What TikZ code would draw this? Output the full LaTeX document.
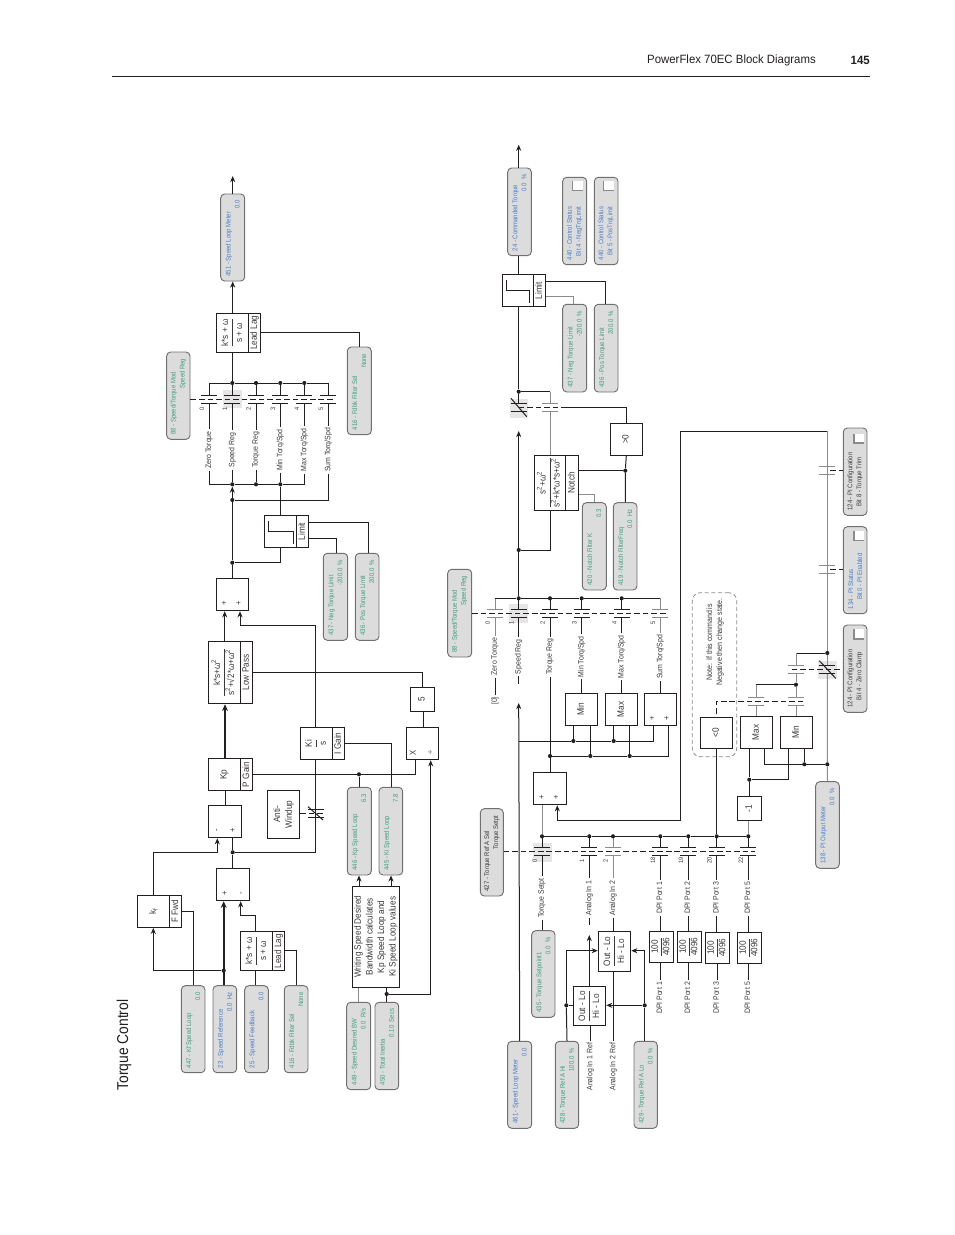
\documentclass[tikz,border=0pt]{standalone}
\usepackage{graphicx}
\usepackage{fontspec}
\setmainfont[FakeStretch=0.88]{Liberation Sans}
\newfontfamily\hdr[FakeStretch=0.95]{Liberation Sans}
\usetikzlibrary{arrows.meta}
\definecolor{pfill}{HTML}{DCDCDC}
\definecolor{pline}{HTML}{707070}
\definecolor{tgreen}{HTML}{3F9E7C}
\definecolor{tblue}{HTML}{4A7CC4}
\definecolor{ink}{HTML}{231F20}
\definecolor{tx}{HTML}{3A3A3A}
\definecolor{soft}{HTML}{8C8C8C}
\definecolor{hl}{HTML}{E6E6E6}
\newcommand\rt[1]{\rotatebox{90}{#1\vphantom{Ag}}}
\newcommand\frc[2]{\rotatebox{90}{\renewcommand\arraystretch{1.12}\setlength\tabcolsep{0pt}\setlength\arrayrulewidth{0.75pt}\begin{tabular}{c}#1\\\hline #2\end{tabular}}}
\newcommand\frs[2]{\rotatebox{90}{\renewcommand\arraystretch{0.92}\setlength\tabcolsep{0pt}\setlength\arrayrulewidth{0.75pt}\begin{tabular}{c}#1\\\hline #2\end{tabular}}}
\newcommand\sq[1]{\textsuperscript{#1}}
\newcommand\geo[4]{\pgfmathsetmacro\myW{(#3-#1)*0.75}\pgfmathsetmacro\myH{(#4-#2)*0.75}\pgfmathsetmacro\myL{(#4-#2)*0.75-7}\pgfmathsetmacro\myX{(#1+#3)/2}\pgfmathsetmacro\myY{(#2+#4)/2}}
% parameter box: colour, name, x1,y1,x2,y2, line 1, line 2
\newcommand\pb[8]{\geo{#3}{#4}{#5}{#6}\node[pbs,text=#1,minimum width=\myW pt,minimum height=\myH pt] (#2) at (\myX,\myY) {\rotatebox{90}{\parbox{\myL pt}{\fontsize{5.1}{6.75}\selectfont\raggedright #7\\\hspace*{\fill}#8\hspace*{1.5pt}}}};}
% plain block
\newcommand\bk[6]{\geo{#2}{#3}{#4}{#5}\node[blk,minimum width=\myW pt,minimum height=\myH pt] (#1) at (\myX,\myY) {#6};}
% block with label strip: name,x1,y1,x2,y2,xdiv,label,main
\newcommand\lb[8]{\geo{#2}{#3}{#4}{#5}\node[blk,minimum width=\myW pt,minimum height=\myH pt] (#1) at (\myX,\myY) {};
 \draw[wire] (#6,0 |- #1.north) -- (#6,0 |- #1.south);
 \pgfmathsetmacro\myA{(#6+#4)/2}\pgfmathsetmacro\myB{(#2+#6)/2}
 \node[txt] (#1-l) at (\myA,\myY) {\rt{#7}};
 \node[txt] (#1-m) at (\myB,\myY) {#8};}
% contact plates
\newcommand\contact[3]{\draw[#3,line width=0.75pt] (#1-8,#2-4) -- (#1+8,#2-4) (#1-8,#2+4) -- (#1+8,#2+4);}
% selector column: name,x,ybus,yplate,ylabel,label,number,colour
\newcommand\swc[8]{\contact{#2}{#4}{#8}
 \node[lab] (#1) at (#2,#5) {\rt{#6}};
 \node[num] (#1-n) at (#2-6.7,#4+9.2) {\rt{#7}};
 \draw[wire,#8] (#2,#3) -- (#2,#4-4) (#2,#4+4) -- (#1.north);}
\newcommand\dott[3]{\node[jdot] (#1) at (#2,#3) {};}
\newcommand\sgn[4]{\node[txt,font=\fontsize{6.5}{7}\selectfont] (#1) at (#2,#3) {\rt{#4}};}
\newcommand\chk[4]{\fill[white] (#1,#2) rectangle (#3,#4);\draw[soft,line width=0.9pt] (#1,#2) -- (#1,#4) -- (#3,#4);}
\tikzset{
 wire/.style={draw=ink,line width=0.75pt},
 arr/.style={wire,-{Stealth[length=4.6pt,width=3.8pt]}},
 thick wire/.style={wire,line width=1.6pt},
 dsh/.style={draw=ink,line width=0.75pt,dash pattern=on 4.2pt off 2.2pt},
 pbs/.style={draw=pline,fill=pfill,line width=0.7pt,rounded corners=3pt,inner sep=0pt},
 blk/.style={draw=ink,fill=white,line width=0.8pt,inner sep=0pt,text=tx,font=\fontsize{7}{8.7}\selectfont},
 txt/.style={inner sep=0pt,text=tx,font=\fontsize{7}{8.7}\selectfont},
 lab/.style={inner xsep=0pt,inner ysep=1.5pt,text=tx,font=\fontsize{5.9}{6.5}\selectfont},
 num/.style={inner sep=0pt,text=tx,font=\fontsize{4.8}{6}\selectfont},
 jdot/.style={circle,fill=ink,inner sep=0pt,minimum size=3.1pt},
}
\begin{document}
\begin{tikzpicture}[x=0.75pt,y=-0.75pt]
\useasboundingbox (0,0) rectangle (954,1235);
% header
\node[anchor=east,inner sep=0pt,text=ink,font=\hdr\fontsize{9}{11}\selectfont] (head) at (816,60.5) {PowerFlex 70EC Block Diagrams};
\node[anchor=east,inner sep=0pt,text=ink,font=\hdr\bfseries\fontsize{9}{11}\selectfont] (page) at (870,60) {145};
\coordinate (ruleL) at (112,76.5); \coordinate (ruleR) at (870,76.5);
\draw[ink,line width=0.65pt] (ruleL) -- (ruleR);
\node[inner sep=0pt,text=ink,font=\fontsize{11.8}{14}\selectfont] (title) at (124,1045) {\rt{Torque Control}};

%%% ============ UPPER DIAGRAM ============
\fill[hl] (223,390) rectangle (242,407.7);
\pb{tblue}{p451}{220.7}{194}{244.7}{281}{451 - Speed Loop Meter}{0.0}
\pb{tgreen}{p416a}{347.3}{347}{371.3}{434.7}{416 - Fdbk Filter Sel}{None}
\pb{tgreen}{p88a}{166.7}{352}{190}{439.3}{88 - Speed/Torque Mod}{Speed Reg}
\pb{tgreen}{p437a}{323.3}{553.3}{347.7}{640.3}{437 - Neg Torque Limit}{-200.0\ \ \%}
\pb{tgreen}{p436a}{355.3}{553.3}{379}{640.3}{436 - Pos Torque Limit}{200.0\ \ \%}
\pb{tgreen}{p446}{347.3}{787.3}{371.3}{875}{446 - Kp Speed Loop}{6.3}
\pb{tgreen}{p445}{379}{787.3}{402.7}{875}{445 - Ki Speed Loop}{7.8}
\pb{tgreen}{p447}{181.3}{985.7}{205}{1072.7}{447 - Kf Speed Loop}{0.0}
\pb{tblue}{p23}{213}{985.7}{236.7}{1072.7}{23 - Speed Reference}{0.0\ \ Hz}
\pb{tblue}{p25}{244.7}{985.7}{268.3}{1072.7}{25 - Speed Feedback}{0.0}
\pb{tgreen}{p416b}{284.3}{985.7}{308}{1072.7}{416 - Fdbk Filter Sel}{None}
\pb{tgreen}{p449}{346.7}{1002.3}{370.7}{1089.7}{449 - Speed Desired BW}{0.0\ \ R/s}
\pb{tgreen}{p450}{375}{1002.3}{398.7}{1089.7}{450 - Total Inertia}{0.10\ \ Secs}

\lb{ll1}{216.7}{313.3}{260.7}{352.3}{248.3}{Lead Lag}{\frc{k*s + ω}{s + ω}}
\lb{lim1}{264.3}{515.3}{308.7}{547.7}{296.3}{Limit}{}
\bk{sum1}{216.3}{578.3}{248.7}{610.7}{}
\lb{lp}{208.3}{641.3}{252.7}{703.7}{240.7}{Low Pass}{\frc{k*s+ω\sq{2}}{s\sq{2}+√2*ω+ω\sq{2}}}
\bk{five}{410.3}{687.3}{434.7}{711.7}{\rt{5}}
\bk{xb}{406.3}{727.3}{438.7}{759.7}{}
\lb{ki}{300.3}{727.3}{344.7}{759.7}{332.3}{I Gain}{\frc{Ki}{s}}
\lb{kp}{208.3}{758.3}{252.7}{790.7}{240.7}{P Gain}{\rt{Kp}}
\bk{aw}{267.7}{790.5}{299.7}{838.3}{\rotatebox{90}{\begin{tabular}{@{}c@{}}Anti-\\Windup\end{tabular}}}
\bk{diff1}{208.3}{805.3}{241.7}{837.7}{}
\bk{diff2}{216.3}{868.3}{249.7}{900.7}{}
\lb{kf}{137.3}{895.3}{181.7}{927.3}{169.7}{F Fwd}{\rt{k\textsubscript{f}}}
\lb{ll2}{240.3}{931.3}{284.7}{970.7}{272.7}{Lead Lag}{\frc{k*s + ω}{s + ω}}
\bk{wr}{352.3}{886.3}{399.7}{987.3}{\rotatebox{90}{\begin{tabular}{@{}c@{}}Writing Speed Desired\\Bandwidth calculates\\Kp Speed Loop and\\Ki Speed Loop values\end{tabular}}}
\sgn{s1}{224.7}{603.3}{+}\sgn{s2}{239.3}{603.3}{+}
\sgn{s3}{413.7}{752.7}{X}\sgn{s4}{431}{752.7}{÷}
\sgn{s5}{217}{830.7}{-}\sgn{s6}{233.3}{830.7}{+}
\sgn{s7}{225.3}{893.7}{+}\sgn{s8}{241.3}{893.7}{-}
% limit glyph
\draw[wire] (268.3,520.7) -- (268.3,531.3) -- (293,531.3) -- (293,543.7);

% selector A
\swc{sa0}{209.3}{383}{399.3}{450}{Zero Torque}{0}{ink}
\swc{sa1}{232.3}{383}{399.3}{450}{Speed Reg}{1}{ink}
\swc{sa2}{256}{383}{399.3}{450}{Torque Reg}{2}{ink}
\swc{sa3}{280.3}{383}{399.3}{450}{Min Torq/Spd}{3}{ink}
\swc{sa4}{304.3}{383}{399.3}{450}{Max Torq/Spd}{4}{ink}
\swc{sa5}{328.3}{383}{399.3}{450}{Sum Torq/Spd}{5}{ink}
\coordinate (dae) at (335,399.3);
\draw[dsh] (p88a.east |- dae) -- (dae);
\dott{ja1}{232.3}{383}\dott{ja2}{256}{383}\dott{ja3}{280.3}{383}\dott{ja4}{304.3}{383}
\coordinate (ja0) at (209.3,383); \coordinate (ja5) at (328.3,383);
\draw[wire] (ja0) -- (ja1) -- (ja2) -- (ja3) -- (ja4) -- (ja5);
\draw[wire] (ja1 |- ll1.south) -- (ja1);
\draw[arr] (p451.south |- ll1.north) -- (p451.south);
\coordinate (out1) at (232.7,176);
\draw[arr] (p451.north) -- (out1);
\draw[wire] (ll1.east |- 0,332.3) -| (p416a.north);
% bus 2
\dott{jb1}{232.3}{484.3}\dott{jb2}{256}{484.3}\dott{jb3}{280.3}{484.3}
\dott{jc}{232.3}{500}\dott{jd}{232.3}{562.7}
\draw[wire] (sa0.south) |- (jb1) -- (jb2) -- (jb3) -| (sa4.south);
\draw[wire] (sa1.south) -- (jb1) (sa2.south) -- (jb2) (sa3.south) -- (jb3);
\draw[wire] (jb3) -- (jb3 |- lim1.north);
\draw[wire] (sa5.south) |- (jc);
\draw[arr] (jc) -- (jb1);
\draw[wire] (jd) -- (jc);
\draw[wire] (jd |- sum1.north) -- (jd);
\draw[wire] (jb3 |- lim1.south) |- (jd);
\draw[wire] (lim1.east |- 0,522.3) -| (368.3,0 |- p436a.north);
\draw[wire] (lim1.east |- 0,538.3) -| (336.7,0 |- p437a.north);
% into sum1
\draw[arr] (224.7,0 |- lp.north) -- (224.7,0 |- sum1.south);
\draw[arr] (315.7,0 |- ki.north) |- (240,625.3) -- (240,0 |- sum1.south);
\draw[wire] (lp.east |- 0,672.3) -| (422.3,0 |- five.north);
\draw[wire] (423.3,0 |- five.south) -- (423.3,0 |- xb.north);
\dott{je}{359}{774.3}\dott{jf}{386.7}{994}\dott{jg}{232.7}{852.3}\dott{jh}{223.7}{970.7}
\draw[thick wire,-{Stealth[length=5pt,width=4.4pt]}] (225,0 |- kp.north) -- (225,0 |- lp.south);
\draw[wire] (kp.east |- je) -- (je) -| (415.7,0 |- xb.south);
\draw[wire] (je) -- (je |- p446.north);
\draw[wire] (ki.east |- 0,743.3) -| (391.3,0 |- p445.north);
\draw[arr] (jf) -| (430.7,0 |- xb.south);
\draw[wire] (jf |- wr.south) -- (jf) -- (jf |- p450.north);
\draw[soft,line width=0.75pt] (358.3,0 |- wr.south) -- (358.3,0 |- p449.north);
\draw[arr] (359,0 |- wr.north) -- (359,0 |- p446.south);
\draw[arr] (391,0 |- wr.north) -- (391,0 |- p445.south);
% Ki - antiwindup
\draw[wire] (315.7,0 |- ki.south) |- (jg);
\draw[wire] (225.7,0 |- kp.south) -- (225.7,0 |- diff1.north);
\draw[wire] (jg) -- (jg |- diff1.south);
\draw[wire] (jg |- diff2.north) -- (jg);
\draw[arr] (153.3,0 |- kf.north) |- (217.3,852.3) -- (217.3,0 |- diff1.south);
\draw[arr] (jh) -| (153.3,0 |- kf.south);
\draw[thick wire,-{Stealth[length=5pt,width=4.4pt]}] (jh |- p23.north) -- (jh |- diff2.south);
\draw[wire] (kf.east |- 0,911.3) -| (193.3,0 |- p447.north);
\draw[arr] (255.3,0 |- ll2.north) |- (240.7,915.7) -- (240.7,0 |- diff2.south);
\draw[wire] (255.3,0 |- ll2.south) -- (255.3,0 |- p25.north);
\draw[wire] (ll2.east |- 0,950.3) -| (296.3,0 |- p416b.north);
% anti-windup contact
\contact{315.7}{813.3}{ink}
\coordinate (awe) at (323.5,813.3);
\draw[dsh] (aw.east |- awe) -- (awe);
\draw[wire] (308,806.7) -- (323,820);

%%% ============ LOWER DIAGRAM ============
\fill[hl] (509.7,399) rectangle (528,418);
\fill[hl] (509,604) rectangle (528,622.7);
\fill[hl] (533,843) rectangle (551.7,861.7);
\fill[hl] (818.3,661) rectangle (836.7,679);
\pb{tblue}{p24}{507.7}{168}{531.3}{255.7}{24 - Commanded Torque}{0.0\ \ \%}
\pb{tblue}{p440a}{562.7}{177.3}{586.7}{264.7}{440 - Control Status}{Bit 4 - NegTrqLimit\hspace*{17pt}}
\pb{tblue}{p440b}{594.3}{177.3}{618}{264.7}{440 - Control Status}{Bit 5 - PosTrqLimit\hspace*{17pt}}
\chk{572.3}{180.7}{582.7}{190.7}\chk{603.7}{180.7}{614}{190.7}
\pb{tgreen}{p437b}{562.7}{304.3}{586.7}{392}{437 - Neg Torque Limit}{-200.0\ \ \%}
\pb{tgreen}{p436b}{594.3}{304.3}{618}{392}{436 - Pos Torque Limit}{200.0\ \ \%}
\pb{tgreen}{p420}{582.3}{502.7}{606.3}{590}{420 - Notch Filter K}{0.3}
\pb{tgreen}{p419}{613.3}{502.7}{637}{590}{419 - Notch FilterFreq}{0.0\ \ Hz}
\pb{tgreen}{p88b}{447.7}{569.3}{471.7}{657}{88 - Speed/Torque Mod}{Speed Reg}
\pb{tx}{p427}{480.3}{808.7}{503.3}{896}{427 - Torque Ref A Sel}{Torque Setpt}
\pb{tgreen}{p435}{531.7}{930.7}{555}{1017.3}{435 - Torque Setpoint1}{0.0\ \ \%}
\pb{tblue}{p461}{507.7}{1041.3}{531.7}{1128.3}{461 - Speed Loop Meter}{0.0}
\pb{tgreen}{p428}{555.3}{1041.3}{578.7}{1128.3}{428 - Torque Ref A Hi}{100.0\ \ \%}
\pb{tgreen}{p429}{634}{1041.3}{657.3}{1128.3}{429 - Torque Ref A Lo}{0.0\ \ \%}
\pb{tx}{p124a}{843.3}{428}{867}{515.3}{124 - PI Configuration}{Bit 8 - Torque Trim\hspace*{17pt}}
\pb{tblue}{p134}{843.3}{526.7}{867}{613.7}{134 - PI Status}{Bit 0 - PI Enabled\hspace*{15pt}}
\pb{tx}{p124b}{843.3}{625}{867}{712.3}{124 - PI Configuration}{Bit 4 - Zero Clamp\hspace*{15pt}}
\chk{854}{434}{863.7}{443}\chk{854}{530.7}{863.7}{540.7}\chk{854}{629}{863.7}{639}
\pb{tblue}{p138}{815.7}{781.7}{839.3}{868.3}{138 - PI Output Meter}{0.0\ \ \%}

\lb{lim2}{502.3}{274.7}{545.7}{306.7}{533.3}{Limit}{}
\draw[wire] (506.3,280) -- (506.3,290.7) -- (529.7,290.7) -- (529.7,302.7);
\bk{gt}{610.3}{423.3}{642.3}{455.3}{\rt{>0}}
\lb{notch}{534.3}{455.3}{578.7}{510.3}{565.7}{Notch}{\frc{s\sq{2}+ω\sq{2}}{s\sq{2}+k*ω*s+ω\sq{2}}}
\bk{minb}{565.3}{693.3}{597.7}{725.3}{\rt{Min}}
\bk{maxb}{605.3}{693.3}{637.7}{725.3}{\rt{Max}}
\bk{sumc}{644.3}{693.3}{676.7}{725.3}{}
\sgn{s9}{652.7}{718.3}{+}\sgn{s10}{667.3}{718.3}{+}
\bk{sum2}{533.3}{772.3}{566.7}{804.7}{}
\sgn{s11}{542.3}{797.7}{+}\sgn{s12}{556.7}{797.7}{+}
\bk{lt}{700.3}{717.3}{732.7}{748.3}{\rt{<0}}
\bk{maxc}{740.3}{716.3}{772.7}{748.3}{\rt{Max}}
\bk{minc}{780.3}{716.3}{812.7}{748.3}{\rt{Min}}
\bk{neg}{737.3}{796.7}{761.7}{820.7}{\rt{-1}}
\bk{outb}{598.3}{931.3}{630.7}{971.3}{\frc{Out - Lo}{Hi - Lo}}
\bk{outa}{573.3}{986.7}{605.7}{1025.7}{\frc{Out - Lo}{Hi - Lo}}
\bk{d1}{649.3}{931.3}{673.7}{962.3}{\frs{100}{4096}}
\bk{d2}{677.3}{931.3}{701.7}{962.3}{\frs{100}{4096}}
\bk{d3}{705.3}{932.3}{729.7}{963.3}{\frs{100}{4096}}
\bk{d5}{737.3}{932.3}{761.7}{963.3}{\frs{100}{4096}}
% note
\geo{692.3}{592.7}{736.7}{756.7}
\node[draw=soft,dash pattern=on 3pt off 2pt,line width=0.6pt,rounded corners=6pt,minimum width=\myW pt,minimum height=\myH pt,inner sep=0pt] (note) at (\myX,\myY) {};
\node[inner sep=0pt,text=tx,font=\fontsize{6}{7.5}\selectfont] (notet) at (715,642) {\rotatebox{90}{\begin{tabular}{@{}c@{}}Note: If this command is\\Negative then change state.\end{tabular}}};

% selector top (limit bypass)
\dott{k0}{518.7}{391.7}
\contact{518.7}{407.3}{ink}
\contact{550.3}{407.3}{soft}
\draw[wire] (518.7,0 |- lim2.south) -- (k0) -- (518.7,403.3);
\draw[soft,line width=0.75pt] (550.3,391.7) -- (550.3,403.3);
\draw[wire] (k0) -- (550.3,391.7);
\draw[wire] (511,398.3) -- (526.7,416.7);
\draw[soft,line width=0.75pt] (550.3,0 |- notch.north) -- (550.3,411.3);
\coordinate (dc) at (518.7,407.3); \coordinate (dd) at (561.7,407.3);
\draw[dsh] (dc) -- (dd);
\draw[wire] (dd) -| (gt.north);
\draw[wire] (518.7,0 |- lim2.north) -- (518.7,0 |- p24.south);
\coordinate (out2) at (518.7,144.7);
\draw[arr] (518.7,0 |- p24.north) -- (out2);
\draw[wire] (lim2.east |- 0,281.3) -| (605.7,0 |- p436b.north);
\draw[soft,line width=0.75pt] (lim2.east |- 0,296.7) -| (573.7,0 |- p437b.north);
% notch
\dott{jn1}{625.3}{470.7}\dott{jn2}{518.7}{550}
\draw[wire] (gt.south) -- (jn1) -- (jn1 |- p419.north);
\draw[wire] (notch.east |- jn1) -- (jn1);
\draw[soft,line width=0.75pt] (notch.east |- 0,494.3) -| (594,0 |- p420.north);
\draw[wire] (550.3,0 |- notch.south) |- (jn2);
% selector B
\swc{sb0}{495}{598.3}{613.3}{656.7}{Zero Torque}{0}{soft}
\swc{sb1}{518.7}{598.3}{613.3}{656.7}{Speed Reg}{1}{ink}
\swc{sb2}{550}{598.3}{613.3}{656.7}{Torque Reg}{2}{ink}
\swc{sb3}{581.7}{598.3}{613.3}{656.7}{Min Torq/Spd}{3}{ink}
\swc{sb4}{621.7}{598.3}{613.3}{656.7}{Max Torq/Spd}{4}{ink}
\swc{sb5}{660.3}{598.3}{613.3}{656.7}{Sum Torq/Spd}{5}{soft}
\coordinate (dbe) at (668.3,613.3);
\draw[dsh] (p88b.east |- dbe) -- (dbe);
\dott{jr1}{518.7}{598.3}\dott{jr2}{550}{598.3}\dott{jr3}{581.7}{598.3}\dott{jr4}{621.7}{598.3}
\coordinate (jr0) at (495,598.3); \coordinate (jr5) at (660.3,598.3);
\draw[wire] (jr0) -- (jr1) -- (jr2) -- (jr3) -- (jr4) -- (jr5);
\coordinate (tip2) at (518.7,431);
\draw[wire] (jr1) -- (jn2);
\draw[arr] (jn2) -- (tip2);
\node[lab] (z0) at (495,701) {\rt{[0]}};
\draw[wire] (sb0.south) -- (z0.north);
\coordinate (s1e) at (518.7,684);
\draw[wire] (sb1.south) -- (s1e);
\coordinate (tip3) at (518.7,703);
\draw[arr] (p461.north) -- (tip3);
\draw[wire] (sb2.south) -- (sum2.north);
\draw[wire] (sb3.south) -- (sb3.south |- minb.north);
\draw[wire] (sb4.south) -- (sb4.south |- maxb.north);
\draw[wire] (sb5.south) -- (sb5.south |- sumc.north);
% buses under min/max/sum
\dott{jp1}{573.3}{741}\dott{jp2}{613.7}{741}
\dott{jq1}{550}{756}\dott{jq2}{590.3}{756}\dott{jq3}{629.7}{756}
\draw[wire] (518.7,741) -- (jp1) -- (jp2) -- (653.3,741) -- (653.3,0 |- sumc.south);
\draw[wire] (jp1) -- (jp1 |- minb.south) (jp2) -- (jp2 |- maxb.south);
\draw[wire] (jq1) -- (jq2) -- (jq3) -- (668.7,756) -- (668.7,0 |- sumc.south);
\draw[wire] (jq2) -- (jq2 |- minb.south) (jq3) -- (jq3 |- maxb.south);
% selector C
\swc{sc0}{542}{836.3}{851.3}{898}{Torque Setpt}{0}{ink}
\swc{sc1}{589.3}{836.3}{851.3}{898}{Analog In 1}{1}{ink}
\swc{sc2}{613}{836.3}{851.3}{898}{Analog In 2}{2}{soft}
\swc{sc3}{660.3}{836.3}{851.3}{898}{DPI Port 1}{18}{ink}
\swc{sc4}{688.3}{836.3}{851.3}{898}{DPI Port 2}{19}{ink}
\swc{sc5}{716.7}{836.3}{851.3}{898}{DPI Port 3}{20}{ink}
\swc{sc6}{748.3}{836.3}{851.3}{898}{DPI Port 5}{22}{ink}
\coordinate (dce) at (755,851.3);
\draw[dsh] (p427.east |- dce) -- (dce);
\dott{jt0}{542}{836.3}\dott{jt1}{589.3}{836.3}\dott{jt2}{613}{836.3}\dott{jt3}{660.3}{836.3}\dott{jt4}{688.3}{836.3}\dott{jt5}{716.7}{836.3}\dott{jt6}{748.3}{836.3}
\draw[wire] (jt0) -- (jt1) -- (jt2) -- (jt3) -- (jt4) -- (jt5) -- (jt6);
\draw[soft,line width=0.75pt] (jt0) -- (jt0 |- sum2.south);
\draw[wire] (jt5) -- (jt5 |- lt.south);
\draw[soft,line width=0.75pt] (jt6) -- (jt6 |- neg.south);
% lines below selector C
\draw[wire] (sc0.south) -- (sc0.south |- p435.north);
\coordinate (a1e) at (589.3,925);
\draw[wire] (sc1.south) -- (a1e);
\coordinate (tip4) at (589.3,935);
\draw[arr] (589.3,0 |- outa.north) -- (tip4);
\draw[wire] (sc2.south) -- (sc2.south |- outb.north);
\draw[wire] (sc3.south) -- (sc3.south |- d1.north);
\draw[wire] (sc4.south) -- (sc4.south |- d2.north);
\draw[wire] (sc5.south) -- (sc5.south |- d3.north);
\draw[wire] (sc6.south) -- (sc6.south |- d5.north);
\node[lab] (l1) at (660.3,998) {\rt{DPI Port 1}};
\node[lab] (l2) at (688.3,998) {\rt{DPI Port 2}};
\node[lab] (l3) at (717,998) {\rt{DPI Port 3}};
\node[lab] (l5) at (748.3,998) {\rt{DPI Port 5}};
\draw[wire] (l1.north |- d1.south) -- (l1.north);
\draw[wire] (l2.north |- d2.south) -- (l2.north);
\draw[wire] (l3.north |- d3.south) -- (l3.north);
\draw[wire] (l5.north |- d5.south) -- (l5.north);
\node[lab] (ai1) at (590.3,1066.7) {\rt{Analog In 1 Ref}};
\node[lab] (ai2) at (613.3,1066.7) {\rt{Analog In 2 Ref}};
\draw[wire] (ai1.north |- outa.south) -- (ai1.north);
\draw[wire] (ai2.north |- outb.south) -- (ai2.north);
\dott{ju1}{566.3}{1005.3}\dott{ju2}{644.7}{1005.3}
\draw[wire] (p428.north) -- (ju1);
\draw[arr] (ju1) |- (outb.west |- 0,950.7);
\draw[wire] (ju1) -- (outa.west |- ju1);
\draw[wire] (p429.north -| ju2) -- (ju2);
\draw[arr] (ju2) |- (outb.east |- 0,950.7);
\draw[arr] (ju2) -- (outa.east |- ju2);
% PI section
\coordinate (pi1) at (680.7,431.3);\coordinate (pi2) at (827.3,431.3);
\dott{jv1}{827.3}{653}\dott{jv2}{827.3}{764.3}
\draw[arr] (pi2) -- (pi1) -- (680.7,820) -| (557.3,0 |- sum2.south);
\draw[soft,line width=0.75pt] (pi2) -- (jv1);
\draw[soft,line width=0.75pt] (jv1) -- (827.3,665);
\draw[soft,line width=0.75pt] (827.3,673.3) -- (jv2) -- (p138.north);
\contact{827.3}{470.7}{soft}
\contact{827.3}{569}{soft}
\contact{827.3}{669.2}{ink}
\draw[wire] (819.3,660.7) -- (835.7,678.3);
\coordinate (e1) at (830,470.7);\coordinate (e2) at (830,569);\coordinate (e3) at (791.7,669.2);
\draw[dsh] (e1) -- (p124a.west |- e1);
\draw[dsh] (e2) -- (p134.west |- e2);
\draw[dsh] (e3) -- (p124b.west |- e3);
\dott{jw1}{796}{684.7}
\draw[wire] (jv1) -- (796,653);
\draw[soft,line width=0.75pt] (796,653) -- (796,665);
\contact{796}{669.2}{soft}
\draw[soft,line width=0.75pt] (796,673.3) -- (jw1) -- (796,697.3);
\contact{796}{701.3}{soft}
\draw[soft,line width=0.75pt] (796,705.3) -- (796,0 |- minc.north);
\draw[wire] (jw1) -- (756.3,684.7);
\draw[soft,line width=0.75pt] (756.3,684.7) -- (756.3,697.3);
\contact{756.3}{701.3}{soft}
\draw[soft,line width=0.75pt] (756.3,705.3) -- (756.3,0 |- maxc.north);
\coordinate (e4) at (803.3,701.3);
\draw[dsh] (e4) -- (716.5,701.3) -- (lt.north);
\dott{jx1}{749.3}{779.7}
\draw[wire] (749.3,0 |- maxc.south) -- (jx1);
\draw[wire] (jx1) -- (jx1 |- neg.north);
\draw[wire] (788.7,0 |- minc.south) |- (jx1);
\draw[wire] (764.3,0 |- maxc.south) |- (jv2);
\dott{jy1}{804.3}{764.3}
\draw[wire] (jy1 |- minc.south) -- (jy1);
\end{tikzpicture}
\end{document}
